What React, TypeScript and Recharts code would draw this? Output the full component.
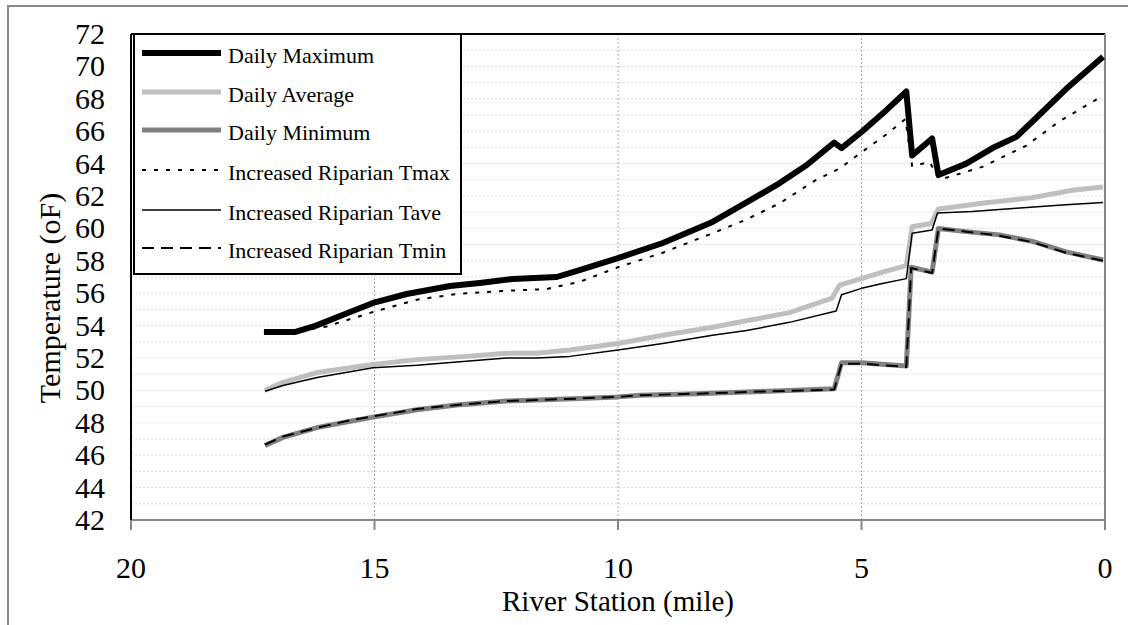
import React from 'react';
import { LineChart, Line, XAxis, YAxis, CartesianGrid, ReferenceLine } from 'recharts';

// [river mile, temperature °F]
const dailyMax: [number, number][] = [
  [17.27, 53.6], [16.64, 53.6], [16.2, 54.0], [15.5, 54.84], [15.03, 55.4], [14.34, 55.95],
  [13.45, 56.44], [12.84, 56.63], [12.16, 56.88], [11.26, 57.0], [10.79, 57.43], [10.0, 58.17],
  [9.08, 59.1], [8.06, 60.4], [7.36, 61.6], [6.68, 62.8], [6.13, 63.9], [5.56, 65.3],
  [5.41, 64.96], [5.0, 65.95], [4.49, 67.3], [4.08, 68.45], [3.96, 64.5], [3.55, 65.55],
  [3.42, 63.3], [2.85, 64.0], [2.31, 64.96], [1.82, 65.65], [1.49, 66.6], [0.8, 68.6], [0.04, 70.6],
];
const dailyAvg: [number, number][] = [
  [17.25, 50.0], [16.88, 50.5], [16.18, 51.1], [15.03, 51.6], [14.13, 51.9], [13.11, 52.1],
  [12.29, 52.3], [11.67, 52.3], [10.99, 52.5], [10.0, 52.9], [9.08, 53.4], [8.06, 53.9],
  [7.36, 54.3], [6.48, 54.8], [5.6, 55.7], [5.45, 56.5], [5.0, 56.9], [4.57, 57.3],
  [4.08, 57.7], [3.96, 60.1], [3.57, 60.3], [3.42, 61.2], [2.52, 61.55], [1.49, 61.9],
  [0.67, 62.35], [0.04, 62.55],
];
const dailyMin: [number, number][] = [
  [17.25, 46.6], [16.88, 47.1], [16.18, 47.7], [15.5, 48.1], [15.03, 48.35], [14.13, 48.8],
  [13.31, 49.1], [12.29, 49.35], [11.67, 49.4], [10.79, 49.5], [10.0, 49.6], [9.55, 49.7],
  [8.39, 49.8], [7.36, 49.9], [5.56, 50.1], [5.41, 51.7], [5.0, 51.7], [4.08, 51.5],
  [3.98, 57.6], [3.55, 57.3], [3.42, 60.0], [2.85, 59.8], [2.17, 59.6], [1.49, 59.2],
  [0.8, 58.55], [0.04, 58.05],
];
const ripTmax: [number, number][] = [
  [17.27, 53.6], [16.64, 53.6], [15.98, 53.95], [15.03, 54.84], [14.13, 55.6], [13.31, 55.95],
  [12.37, 56.14], [11.47, 56.25], [11.26, 56.4], [10.79, 56.7], [10.0, 57.6], [9.08, 58.5],
  [8.06, 59.7], [7.4, 60.5], [6.68, 61.55], [5.93, 63.0], [5.45, 63.7], [5.0, 64.7],
  [4.49, 65.8], [4.1, 66.75], [3.96, 63.85], [3.6, 64.1], [3.4, 63.0], [2.52, 63.8],
  [1.62, 65.1], [0.94, 66.6], [0.04, 68.2],
];
const ripTave: [number, number][] = [
  [17.25, 49.95], [16.88, 50.3], [16.18, 50.8], [15.03, 51.4], [14.13, 51.55], [13.31, 51.75],
  [12.29, 52.0], [11.67, 52.0], [10.99, 52.1], [10.0, 52.5], [9.08, 52.9], [8.06, 53.4],
  [7.36, 53.7], [6.48, 54.2], [5.52, 54.9], [5.41, 55.9], [5.0, 56.3], [4.57, 56.6],
  [4.08, 56.9], [3.96, 59.7], [3.55, 59.9], [3.44, 60.95], [2.73, 61.05], [1.82, 61.25],
  [0.88, 61.45], [0.04, 61.6],
];
const ripTmin: [number, number][] = [
  [17.25, 46.65], [16.88, 47.15], [16.18, 47.7], [15.5, 48.15], [15.03, 48.4], [14.13, 48.85],
  [13.31, 49.1], [12.29, 49.35], [11.67, 49.4], [10.79, 49.5], [10.0, 49.6], [9.55, 49.7],
  [8.39, 49.8], [7.36, 49.9], [5.56, 50.05], [5.41, 51.65], [5.0, 51.65], [4.08, 51.45],
  [3.98, 57.55], [3.55, 57.25], [3.42, 60.0], [2.85, 59.8], [2.17, 59.55], [1.49, 59.15],
  [0.8, 58.5], [0.04, 58.0],
];

const xTicks = [0, 5, 10, 15, 20];
const yTicks = Array.from({ length: 31 }, (_, i) => 42 + i);

const FONT = "'Liberation Serif', 'Times New Roman', serif";

const toRows = (arr: [number, number][]) => arr.map(([mile, t]) => ({ mile, t }));

const series = [
  { name: 'Daily Maximum', data: dailyMax, stroke: '#000000', width: 6, dash: undefined },
  { name: 'Daily Average', data: dailyAvg, stroke: '#bfbfbf', width: 5, dash: undefined },
  { name: 'Daily Minimum', data: dailyMin, stroke: '#808080', width: 5, dash: undefined },
  { name: 'Increased Riparian Tmax', data: ripTmax, stroke: '#000000', width: 2, dash: '4 8' },
  { name: 'Increased Riparian Tave', data: ripTave, stroke: '#000000', width: 1.5, dash: undefined },
  { name: 'Increased Riparian Tmin', data: ripTmin, stroke: '#000000', width: 2, dash: '12 7' },
];

const YTick = (props: any) => {
  const { x, y, payload } = props;
  if (payload.value % 2 !== 0) return null;
  return (
    <text x={x} y={y} dy={10} textAnchor="end" fontFamily={FONT} fontSize={30} fill="#000">
      {payload.value}
    </text>
  );
};

const XTick = (props: any) => {
  const { x, y, payload } = props;
  return (
    <text x={x} y={y} dy={48} textAnchor="middle" fontFamily={FONT} fontSize={30} fill="#000">
      {payload.value}
    </text>
  );
};

const legendBaselines = [30, 69, 107, 147, 187, 225];

export default function App() {
  return (
    <div style={{ position: 'absolute', left: 0, top: 0, width: 1128, height: 625, overflow: 'hidden', background: '#fff' }}>
      <div
        style={{
          position: 'absolute', left: 7, top: 5, width: 1200, height: 700,
          borderTop: '2px solid #898989', borderLeft: '2px solid #898989',
        }}
      />
      <div style={{ position: 'absolute', left: 0, top: 0 }}>
        <LineChart width={1128} height={625} margin={{ top: 34, right: 23, bottom: 45, left: 31 }}>
          <CartesianGrid vertical={false} stroke="#d9d9d9" strokeDasharray="2 2" />
          <CartesianGrid horizontal={false} stroke="#a6a6a6" strokeDasharray="2 2" />
          <XAxis
            dataKey="mile"
            type="number"
            domain={[0, 20]}
            reversed
            ticks={xTicks}
            height={60}
            tickSize={10}
            tickMargin={0}
            tick={<XTick />}
            axisLine={{ stroke: '#868686', strokeWidth: 2 }}
            tickLine={{ stroke: '#868686', strokeWidth: 2 }}
            allowDataOverflow
            label={{
              content: (p: any) => {
                const vb = p.viewBox;
                return (
                  <text x={vb.x + vb.width / 2} y={vb.y + 91} textAnchor="middle" fontFamily={FONT} fontSize={29} fill="#000">
                    River Station (mile)
                  </text>
                );
              },
            }}
          />
          <YAxis
            type="number"
            domain={[42, 72]}
            ticks={yTicks}
            interval={0}
            width={100}
            tickSize={0}
            tickMargin={26}
            tickLine={false}
            tick={<YTick />}
            axisLine={{ stroke: '#000', strokeWidth: 2 }}
            allowDataOverflow
            label={{
              content: (p: any) => {
                const vb = p.viewBox;
                const cx = vb.x + 29;
                const cy = vb.y + vb.height / 2 + 21;
                return (
                  <text
                    x={cx}
                    y={cy}
                    transform={`rotate(-90 ${cx} ${cy})`}
                    textAnchor="middle"
                    fontFamily={FONT}
                    fontSize={30}
                    fill="#000"
                  >
                    Temperature (oF)
                  </text>
                );
              },
            }}
          />
          <ReferenceLine y={72} stroke="#000" strokeWidth={2} />
          <ReferenceLine x={0} stroke="#868686" strokeWidth={2} />
          {series.map((s) => (
            <Line
              key={s.name}
              name={s.name}
              data={toRows(s.data)}
              dataKey="t"
              type="linear"
              stroke={s.stroke}
              strokeWidth={s.width}
              strokeDasharray={s.dash}
              strokeLinejoin="round"
              dot={false}
              activeDot={false}
              isAnimationActive={false}
            />
          ))}
        </LineChart>
      </div>
      <svg style={{ position: 'absolute', left: 133, top: 33 }} width={329} height={242}>
        <rect x={1} y={1} width={327} height={240} fill="#fff" stroke="#000" strokeWidth={2} />
        {series.map((s, i) => {
          const b = legendBaselines[i];
          return (
            <g key={s.name}>
              <line x1={9} x2={88} y1={b - 10} y2={b - 10} stroke={s.stroke} strokeWidth={s.width} strokeDasharray={s.dash} />
              <text x={95} y={b} fontFamily={FONT} fontSize={22} fill="#000">
                {s.name}
              </text>
            </g>
          );
        })}
      </svg>
    </div>
  );
}
